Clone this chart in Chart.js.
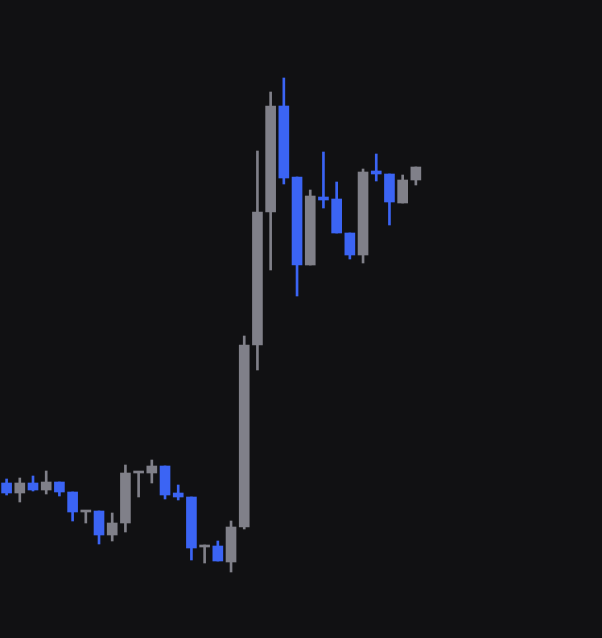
<!DOCTYPE html>
<html>
<head>
<meta charset="utf-8">
<script src="https://cdn.jsdelivr.net/npm/chart.js@4/dist/chart.umd.min.js"></script>
<style>
  html, body { margin: 0; padding: 0; background: #111113; }
  #wrap { width: 602px; height: 638px; }
</style>
</head>
<body>
<div id="wrap"><canvas id="candles"></canvas></div>
<script>
const open  = [15.5, 14.5, 15.5, 14.8, 15.6, 14.6, 12.6, 12.7, 10.3, 11.5, 16.5, 16.5, 17.2, 14.5, 14.1, 9.1, 9.2, 7.6, 11.1, 29.3, 42.6, 53.2, 46.1, 37.3, 44.1, 43.9, 40.5, 38.3, 46.7, 46.4, 43.5, 45.8];
const high  = [15.9, 16.0, 16.2, 16.7, 15.6, 14.6, 12.7, 12.7, 12.5, 17.3, 16.6, 17.8, 17.2, 15.3, 14.1, 9.3, 9.7, 11.7, 30.2, 48.7, 54.6, 56.0, 46.1, 44.8, 48.6, 45.6, 40.5, 46.9, 48.4, 46.4, 46.3, 47.1];
const low   = [14.3, 13.6, 14.7, 14.4, 14.2, 11.7, 11.5, 9.4, 9.7, 10.6, 14.1, 15.5, 13.9, 13.8, 7.8, 7.5, 7.7, 6.6, 10.9, 26.8, 36.8, 45.4, 34.2, 37.3, 43.0, 40.5, 37.9, 37.5, 45.7, 41.3, 43.5, 45.3];
const close = [14.5, 15.5, 14.8, 15.6, 14.6, 12.6, 12.7, 10.3, 11.5, 16.5, 16.6, 17.2, 14.3, 14.1, 9.0, 9.2, 7.7, 11.1, 29.3, 42.6, 53.2, 46.0, 37.3, 44.2, 43.8, 40.5, 38.3, 46.6, 46.4, 43.6, 45.8, 47.1];

const upColor = "#808089";
const downColor = "#3b64f4";

const colors = open.map((o, i) => close[i] >= o ? upColor : downColor);

new Chart(document.getElementById("candles"), {
    type: "bar",
    data: {
        datasets: [
            {
                label: "wick",
                data: open.map((o, i) => ({ x: i, y: [low[i], high[i]] })),
                backgroundColor: colors,
                barThickness: 2,
                grouped: false,
                order: 2
            },
            {
                label: "body",
                data: open.map((o, i) => ({ x: i, y: [o, close[i]] })),
                backgroundColor: colors,
                barThickness: 10,
                minBarLength: 2,
                grouped: false,
                order: 1
            }
        ]
    },
    options: {
        responsive: true,
        maintainAspectRatio: false,
        animation: false,
        layout: { padding: 0 },
        plugins: {
            legend: { display: false },
            tooltip: { enabled: false }
        },
        scales: {
            x: { type: "linear", min: -0.5, max: 45.1, offset: false, display: false },
            y: { min: 0, max: 63.8, display: false }
        }
    }
});
</script>
</body>
</html>
